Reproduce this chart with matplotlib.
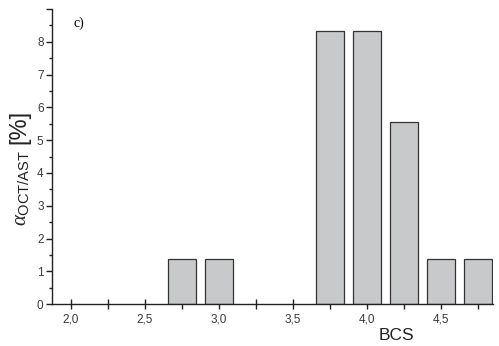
import matplotlib
matplotlib.use("Agg")
import matplotlib.pyplot as plt
from matplotlib.ticker import MultipleLocator, FuncFormatter

bcs = [2.75, 3.0, 3.75, 4.0, 4.25, 4.5, 4.75]
alpha_pct = [1.39, 1.39, 8.33, 8.33, 5.56, 1.39, 1.39]

plt.rcParams["font.family"] = ["Liberation Sans", "DejaVu Sans"]
plt.rcParams["mathtext.fontset"] = "custom"
plt.rcParams["mathtext.it"] = "Liberation Serif:italic"
plt.rcParams["mathtext.rm"] = "Liberation Serif"
plt.rcParams["mathtext.sf"] = "Liberation Sans"

fig = plt.figure(figsize=(4.99, 3.46), dpi=100)
ax = fig.add_axes([0.104, 0.121, 0.884, 0.853])

ax.bar(bcs, alpha_pct, width=0.19, color="#c8c9cb", edgecolor="#333333", linewidth=0.9, zorder=2)

ax.set_xlim(1.872, 4.85)
ax.set_ylim(0, 9)
for s in ["top", "right"]:
    ax.spines[s].set_visible(False)
for s in ["left", "bottom"]:
    ax.spines[s].set_linewidth(1.0)
    ax.spines[s].set_color("#222222")

ax.xaxis.set_major_locator(MultipleLocator(0.5))
ax.xaxis.set_minor_locator(MultipleLocator(0.25))
ax.yaxis.set_major_locator(MultipleLocator(1))
ax.yaxis.set_minor_locator(MultipleLocator(0.5))
ax.xaxis.set_major_formatter(FuncFormatter(lambda v, p: f"{v:.1f}".replace(".", ",")))
ax.yaxis.set_major_formatter(FuncFormatter(lambda v, p: "" if v > 8.5 else f"{v:.0f}"))

ax.tick_params(axis="x", which="both", direction="inout", length=7, width=1, colors="#222222", labelsize=8.5, pad=3)
ax.tick_params(axis="y", which="major", direction="out", length=4, width=1, colors="#222222", labelsize=8.5, pad=2)
ax.tick_params(axis="y", which="minor", direction="out", length=2.5, width=1, colors="#222222")
for lbl in ax.get_xticklabels() + ax.get_yticklabels():
    lbl.set_color("#3a3a3a")

fig.text(0.044, 0.457, r"$\alpha_{\mathsf{OCT/AST}}$", fontsize=15, rotation=90,
         ha="center", va="center", color="#222222")
fig.text(0.038, 0.632, "[%]", fontsize=17, rotation=90,
         ha="center", va="center", color="#222222")
fig.text(0.795, 0.008, "BCS", fontsize=12.5, ha="center", va="bottom", color="#222222")
ax.text(0.048, 0.975, "c)", transform=ax.transAxes, fontsize=10, family="Liberation Serif", ha="left", va="top")

fig.savefig("out.png", dpi=100)
